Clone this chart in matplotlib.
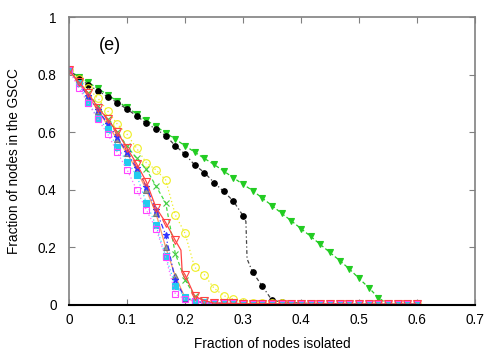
import numpy as np
import matplotlib
matplotlib.use('Agg')
import matplotlib.pyplot as plt

plt.rcParams['font.family'] = ['Liberation Sans', 'DejaVu Sans']

# sample points along the x axis (fraction of nodes isolated)
frac_isolated = [0.0, 0.0167, 0.0333, 0.05, 0.0667, 0.0833, 0.1, 0.1167, 0.1333,
                 0.15, 0.1667, 0.1833, 0.2, 0.2167, 0.2333, 0.25, 0.2667, 0.2833,
                 0.3, 0.3167, 0.3333, 0.35, 0.3667, 0.3833, 0.4, 0.4167, 0.4333,
                 0.45, 0.4667, 0.4833, 0.5, 0.5167, 0.5333, 0.55, 0.5667, 0.5833, 0.6]

tail = [0.006, 0.005, 0.005, 0.004, 0.004, 0.004, 0.004, 0.003, 0.003, 0.003,
        0.003, 0.003, 0.003, 0.003, 0.002, 0.002, 0.002, 0.002, 0.002, 0.002,
        0.002, 0.002]

gscc_green_tri = [0.815, 0.793, 0.773, 0.752, 0.73, 0.708, 0.686, 0.664, 0.642,
                  0.62, 0.598, 0.576, 0.553, 0.531, 0.509, 0.488, 0.465, 0.442,
                  0.419, 0.397, 0.371, 0.345, 0.318, 0.292, 0.265, 0.238, 0.21,
                  0.182, 0.154, 0.125, 0.092, 0.06, 0.025, 0.002, 0.001, 0.0, 0.0]

gscc_black = [0.815, 0.79, 0.764, 0.744, 0.723, 0.703, 0.68, 0.657, 0.631, 0.611,
              0.588, 0.553, 0.524, 0.486, 0.46, 0.425, 0.394, 0.361, 0.31, 0.113,
              0.065, 0.016, 0.01, 0.008, 0.006, 0.005, 0.005, 0.004, 0.004, 0.004,
              0.004, 0.003, 0.003, 0.003, 0.003, 0.003, 0.003]

gscc_yellow = [0.815, 0.785, 0.752, 0.718, 0.674, 0.628, 0.593, 0.544, 0.494,
               0.469, 0.434, 0.3125, 0.249, 0.13, 0.105, 0.058, 0.032, 0.02,
               0.01, 0.007, 0.006, 0.005, 0.005, 0.004, 0.004, 0.004, 0.004,
               0.003, 0.003, 0.003, 0.003, 0.003, 0.003, 0.003, 0.002, 0.002, 0.002]

gscc_green_x = [0.815, 0.775, 0.735, 0.69, 0.645, 0.6, 0.552, 0.509, 0.471, 0.413,
                0.354, 0.178, 0.088, 0.03, 0.015] + tail

gscc_red = [0.815, 0.775, 0.735, 0.685, 0.645, 0.6, 0.545, 0.49, 0.428, 0.338,
            0.286, 0.224, 0.105, 0.03, 0.015] + tail

gscc_gray = [0.815, 0.77, 0.725, 0.675, 0.625, 0.575, 0.527, 0.469, 0.4, 0.318,
             0.2, 0.1, 0.025, 0.012, 0.008] + tail

gscc_blue = [0.815, 0.77, 0.725, 0.677, 0.63, 0.582, 0.53, 0.475, 0.41, 0.33,
             0.243, 0.085, 0.025, 0.012, 0.008] + tail

gscc_cyan = [0.815, 0.77, 0.702, 0.65, 0.61, 0.548, 0.498, 0.451, 0.355, 0.276,
             0.17, 0.067, 0.026, 0.015, 0.01] + tail

gscc_magenta = [0.815, 0.755, 0.7, 0.645, 0.594, 0.53, 0.47, 0.4, 0.33, 0.265,
                0.165, 0.038, 0.02, 0.012, 0.008] + tail

# sharp drops seen in the connecting lines between two markers: (after index, x, y)
black_drop = [(18, 0.305, 0.29), (18, 0.307, 0.16)]
red_drop = [(11, 0.193, 0.19), (11, 0.195, 0.12)]

series = [
    (gscc_green_tri, [], dict(color='#22cc22', ls=(0, (3, 2)), marker='v', mfc='#22cc22', mec='#22cc22', ms=4)),
    (gscc_black, black_drop, dict(color='#444444', ls=(0, (1, 2, 3, 2)), marker='o', mfc='black', mec='black', ms=4)),
    (gscc_yellow, [], dict(color='#eeee22', ls=(0, (1, 2)), marker='o', mfc='none', mec='#eeee22', ms=5.5)),
    (gscc_green_x, [], dict(color='#44dd44', ls=(0, (3, 2)), marker='x', mfc='none', mec='#44cc44', ms=4.5)),
    (gscc_gray, [], dict(color='#ff9966', ls='-', marker='^', mfc='#999999', mec='#777777', ms=4)),
    (gscc_blue, [], dict(color='#3333ff', ls=(0, (4, 2, 1, 2)), marker='*', mfc='#3333ff', mec='#3333ff', ms=4.5)),
    (gscc_cyan, [], dict(color='#33ddff', ls=(0, (1, 2)), marker='s', mfc='#22ccee', mec='#22ccee', ms=4)),
    (gscc_magenta, [], dict(color='#ff66ff', ls=(0, (1, 2)), marker='s', mfc='none', mec='#ff44ff', ms=4.5)),
    (gscc_red, red_drop, dict(color='#ff4444', ls='-', marker='v', mfc='none', mec='#ff4444', ms=5.5)),
]

fig = plt.figure(figsize=(5, 3.5), dpi=100)
ax = fig.add_axes([0.138, 0.129, 0.812, 0.822])

for y, extra, style in series:
    xs = list(frac_isolated)
    ys = list(y)
    marks = list(range(len(xs)))
    # insert line-only knots, keep markers on the original samples
    for k, (after, ex, ey) in enumerate(extra):
        pos = after + 1 + k
        xs.insert(pos, ex)
        ys.insert(pos, ey)
        marks = [m if m < pos else m + 1 for m in marks]
    ax.plot(xs, ys, lw=0.9, mew=0.8, markevery=marks, **style)

ax.set_xlim(0, 0.7)
ax.set_ylim(0, 1)
ax.set_xticks([0, 0.1, 0.2, 0.3, 0.4, 0.5, 0.6, 0.7])
ax.set_xticklabels(['0', '0.1', '0.2', '0.3', '0.4', '0.5', '0.6', '0.7'])
ax.set_yticks([0, 0.2, 0.4, 0.6, 0.8, 1])
ax.set_yticklabels(['0', '0.2', '0.4', '0.6', '0.8', '1'])
ax.tick_params(direction='in', top=True, right=True, labelsize=9.8,
               length=4, color='#808080')
ax.tick_params(axis='y', pad=9)
ax.tick_params(axis='x', pad=6)
for side in ['left', 'top', 'right']:
    ax.spines[side].set_color('#808080')
    ax.spines[side].set_linewidth(1.2)
ax.spines['bottom'].set_color('black')
ax.spines['bottom'].set_linewidth(1.5)

ax.set_xlabel('Fraction of nodes isolated', fontsize=9.8, labelpad=7)
ax.set_ylabel('Fraction of nodes in the GSCC', fontsize=9.8, labelpad=12)
ax.text(0.07, 0.90, '(e)', fontsize=13, ha='center', va='center')

fig.savefig('out.png', dpi=100)
